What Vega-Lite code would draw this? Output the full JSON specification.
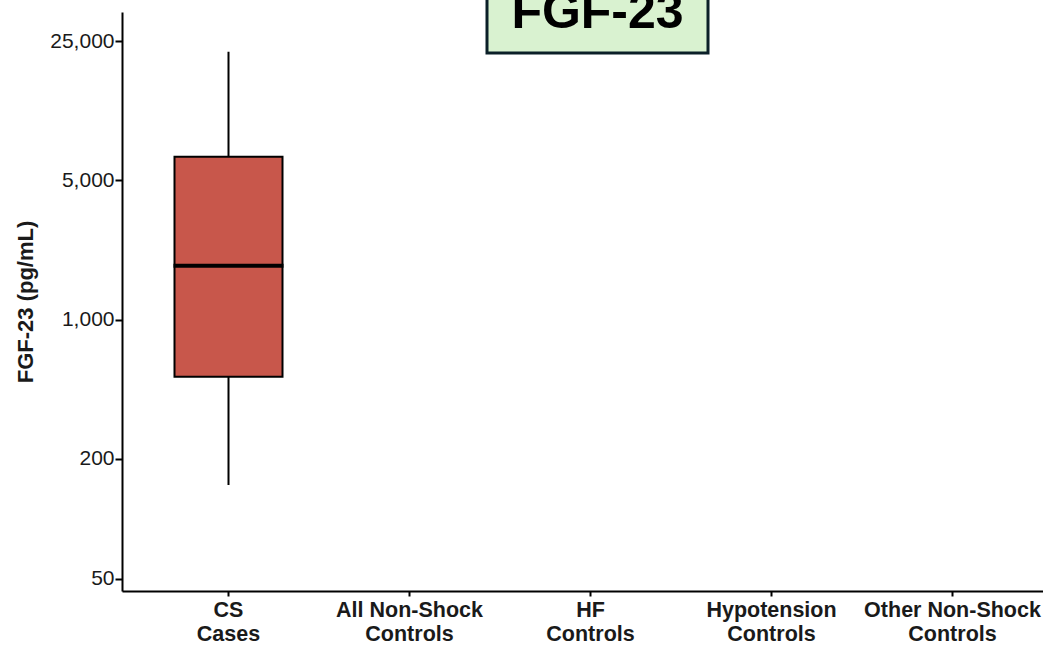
{
  "$schema": "https://vega.github.io/schema/vega-lite/v6.json",
  "width": 921,
  "height": 579,
  "autosize": {"type": "none"},
  "padding": {"left": 122, "top": 12, "right": 0, "bottom": 54},
  "background": "white",
  "config": {
    "view": {"stroke": null},
    "font": "Liberation Sans",
    "axis": {
      "grid": false,
      "domainColor": "#000000",
      "domainWidth": 2,
      "tickColor": "#000000",
      "tickWidth": 2,
      "labelColor": "#1a1a1a",
      "titleColor": "#1a1a1a",
      "labelFont": "Liberation Sans",
      "titleFont": "Liberation Sans"
    }
  },
  "layer": [
    {
      "data": {"values": [
        {"group": "CS Cases", "lower": 148, "q1": 517, "median": 1866, "q3": 6577, "upper": 22130}
      ]},
      "encoding": {
        "x": {
          "field": "group", "type": "nominal", "sort": null, "title": null,
          "scale": {"type": "band", "domain": ["CS Cases", "All Non-Shock Controls", "HF Controls", "Hypotension Controls", "Other Non-Shock Controls"], "paddingInner": 0, "paddingOuter": 0.0442, "align": 1},
          "axis": {"labelAngle": 0, "labelExpr": "datum.value == 'CS Cases' ? ['CS', 'Cases'] : [replace(datum.value, ' Controls', ''), 'Controls']", "labelFontSize": 21.5, "labelFontWeight": "bold", "labelLineHeight": 24, "tickSize": 5, "labelPadding": 3}
        }
      },
      "layer": [
        {
          "mark": {"type": "rule", "color": "#000000", "strokeWidth": 2},
          "encoding": {
            "y": {"field": "lower", "type": "quantitative", "title": "FGF-23 (pg/mL)",
              "scale": {"type": "log", "domain": [43.5, 35000], "nice": false},
              "axis": {"values": [50, 200, 1000, 5000, 25000], "format": ",", "labelFontSize": 21, "tickSize": 7, "labelPadding": 1, "titleFontSize": 22, "titleFontWeight": "bold", "titlePadding": 12}},
            "y2": {"field": "upper"}
          }
        },
        {
          "mark": {"type": "bar", "size": 108, "fill": "#c8574b", "stroke": "#000000", "strokeWidth": 2},
          "encoding": {
            "y": {"field": "q1", "type": "quantitative", "title": "FGF-23 (pg/mL)"},
            "y2": {"field": "q3"}
          }
        },
        {
          "mark": {"type": "tick", "orient": "horizontal", "size": 110, "thickness": 4, "color": "#000000", "opacity": 1},
          "encoding": {
            "y": {"field": "median", "type": "quantitative", "title": "FGF-23 (pg/mL)"}
          }
        }
      ]
    },
    {
      "data": {"values": [{"group": "HF Controls", "label": "FGF-23"}]},
      "encoding": {
        "x": {"field": "group", "type": "nominal", "title": null}
      },
      "layer": [
        {
          "mark": {"type": "bar", "size": 221, "xOffset": 7, "fill": "#d9f2d0", "stroke": "#0b2028", "strokeWidth": 3},
          "encoding": {
            "y": {"datum": 21800, "type": "quantitative"},
            "y2": {"datum": 300000}
          }
        },
        {
          "mark": {"type": "text", "dx": 7, "fontSize": 50, "fontWeight": "bold", "font": "Liberation Sans", "color": "#000000", "align": "center", "baseline": "alphabetic"},
          "encoding": {
            "y": {"datum": 29100, "type": "quantitative"},
            "text": {"field": "label"}
          }
        }
      ]
    }
  ]
}
